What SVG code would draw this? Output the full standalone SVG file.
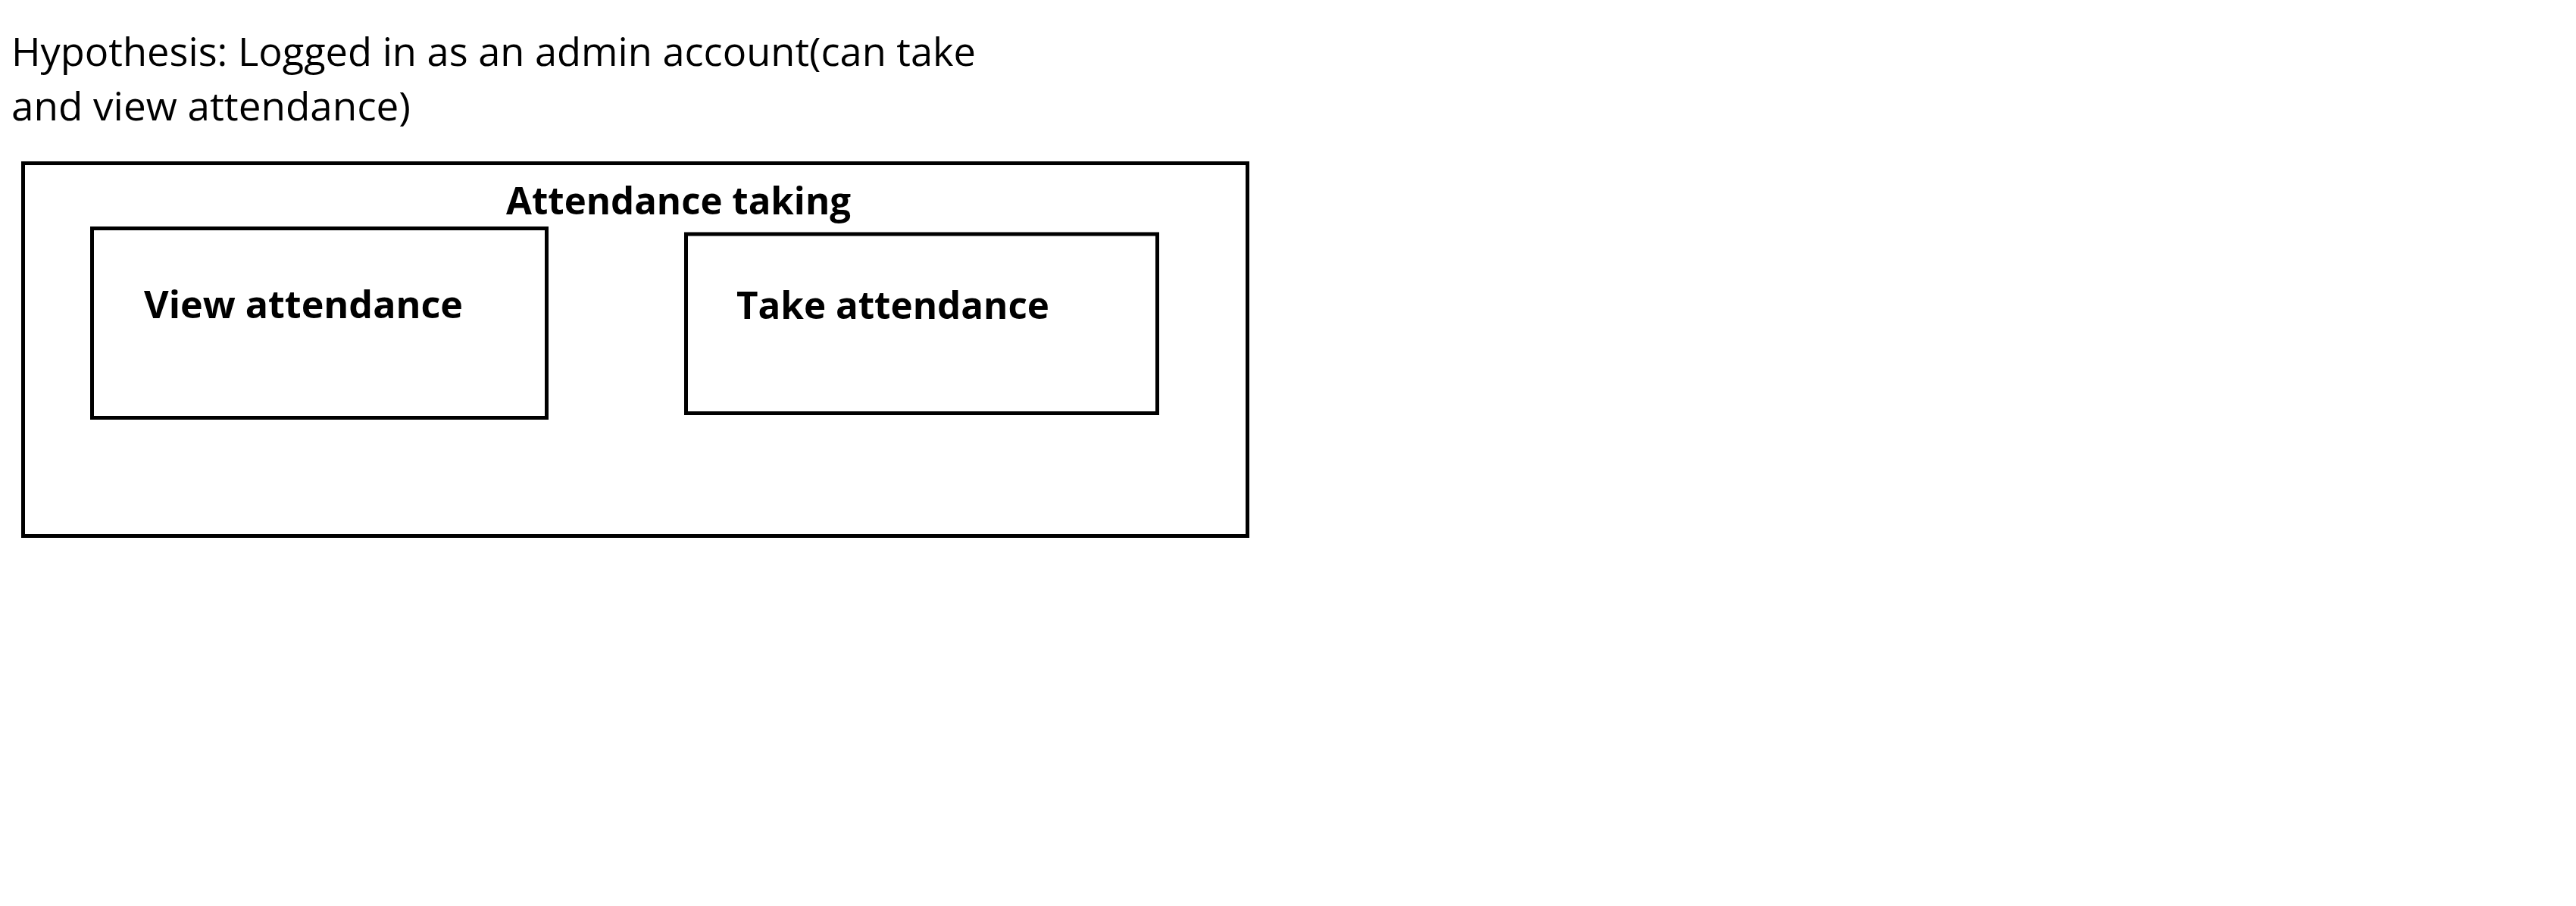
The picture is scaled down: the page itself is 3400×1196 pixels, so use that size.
<svg xmlns="http://www.w3.org/2000/svg" width="3400" height="1196" viewBox="0 0 3400 1196">
<style>
.box{fill:#fff;stroke:#000;stroke-width:5}
.t{font-family:"Open Sans","Liberation Sans",sans-serif;font-size:51px;fill:#000}
.b{font-family:"Open Sans","Liberation Sans",sans-serif;font-size:50px;font-weight:bold;fill:#000}
</style>
<rect width="3400" height="1196" fill="#fff"/>
<g id="hypothesis">
<text class="t" x="15" y="87" textLength="1273" lengthAdjust="spacingAndGlyphs">Hypothesis: Logged in as an admin account(can take</text>
<text class="t" x="15" y="159" textLength="527" lengthAdjust="spacingAndGlyphs">and view attendance)</text>
</g>
<g id="attendance-taking">
<rect class="box" x="30.5" y="215.5" width="1616" height="492"/>
<text class="b" x="668" y="283" textLength="455" lengthAdjust="spacingAndGlyphs">Attendance taking</text>
</g>
<g id="view-attendance">
<rect class="box" x="121.5" y="301.5" width="600" height="250"/>
<text class="b" x="190" y="420" textLength="421" lengthAdjust="spacingAndGlyphs">View attendance</text>
</g>
<g id="take-attendance">
<rect class="box" x="905.5" y="309" width="622" height="236.5"/>
<text class="b" x="972" y="421" textLength="413" lengthAdjust="spacingAndGlyphs">Take attendance</text>
</g>
<g id="connectors"></g>
</svg>
